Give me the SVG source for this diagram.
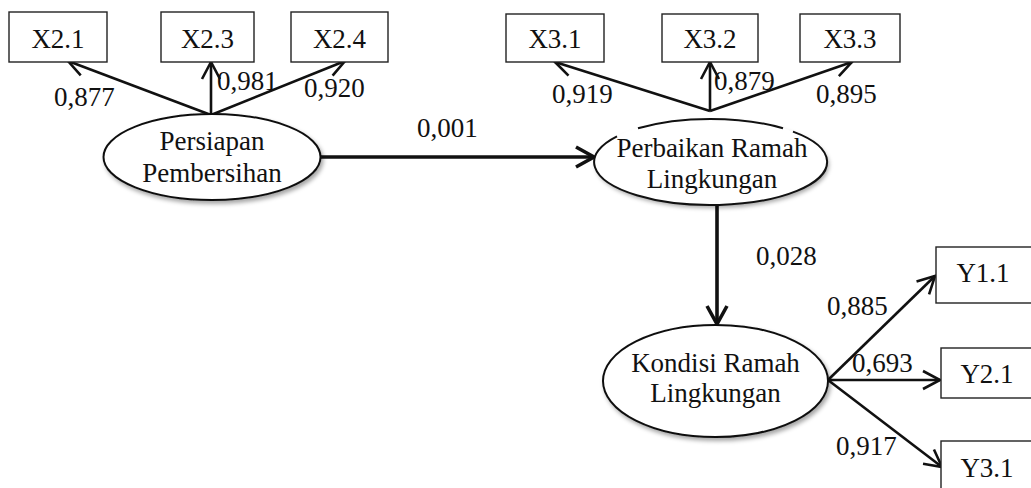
<svg xmlns="http://www.w3.org/2000/svg" width="1031" height="488" viewBox="0 0 1031 488">
<style>
text{font-family:"Liberation Serif","Times New Roman",serif;font-size:27px;fill:#111}
.c{text-anchor:middle}
.box{fill:#fff;stroke:#222;stroke-width:1.4}
.ell{fill:#fff;stroke:#111;stroke-width:2}
.ind{stroke:#111;stroke-width:2.6;fill:none;marker-end:url(#ah)}
.main{stroke:#111;stroke-width:3.6;fill:none;marker-end:url(#ahm)}
</style>
<defs>
<marker id="ah" markerUnits="userSpaceOnUse" viewBox="-20 -12 24 24" refX="0" refY="0" markerWidth="24" markerHeight="24" orient="auto" overflow="visible">
<path d="M-17,-9 L0,0 L-17,9" fill="none" stroke="#111" stroke-width="2.6" stroke-linejoin="miter"/>
</marker>
<marker id="ahm" markerUnits="userSpaceOnUse" viewBox="-22 -14 26 28" refX="0" refY="0" markerWidth="26" markerHeight="28" orient="auto" overflow="visible">
<path d="M-18,-10 L0,0 L-18,10" fill="none" stroke="#111" stroke-width="3.6"/>
</marker>
<filter id="sh" x="-20%" y="-20%" width="140%" height="150%">
<feDropShadow dx="2" dy="3" stdDeviation="2.2" flood-color="#000" flood-opacity="0.35"/>
</filter>
</defs>

<g id="connectors">
<line class="ind" x1="211" y1="115" x2="68" y2="61"/>
<line class="ind" x1="211" y1="115" x2="211" y2="62"/>
<line class="ind" x1="211" y1="115" x2="345" y2="61"/>
<line class="main" x1="321" y1="157" x2="594" y2="157"/>
<line class="ind" x1="710" y1="111" x2="555" y2="62"/>
<line class="ind" x1="710" y1="111" x2="710" y2="62"/>
<line class="ind" x1="710" y1="111" x2="852" y2="62"/>
<line class="main" x1="717" y1="205" x2="717" y2="324"/>
<line class="ind" x1="828" y1="380" x2="935" y2="276"/>
<line class="ind" x1="828" y1="380" x2="940" y2="380"/>
<line class="ind" x1="828" y1="380" x2="942" y2="467"/>
<text x="54" y="106">0,877</text>
<text x="217" y="90">0,981</text>
<text x="304" y="97">0,920</text>
<text x="417" y="137">0,001</text>
<text x="552" y="103">0,919</text>
<text x="714" y="90">0,879</text>
<text x="816" y="103">0,895</text>
<text x="756" y="265">0,028</text>
<text x="827" y="315">0,885</text>
<text x="852" y="372">0,693</text>
<text x="836" y="455">0,917</text>
</g>

<g id="X2.1"><rect class="box" x="9" y="12" width="98" height="50"/><text class="c" x="58" y="48">X2.1</text></g>
<g id="X2.3"><rect class="box" x="161" y="12" width="93" height="50"/><text class="c" x="207.5" y="48">X2.3</text></g>
<g id="X2.4"><rect class="box" x="291" y="12" width="97" height="50"/><text class="c" x="339.5" y="48">X2.4</text></g>
<g id="X3.1"><rect class="box" x="506" y="14" width="98" height="48"/><text class="c" x="555" y="48">X3.1</text></g>
<g id="X3.2"><rect class="box" x="662" y="14" width="96" height="48"/><text class="c" x="710" y="48">X3.2</text></g>
<g id="X3.3"><rect class="box" x="800" y="14" width="100" height="48"/><text class="c" x="850" y="48">X3.3</text></g>
<g id="Y1.1"><rect class="box" x="936" y="247" width="110" height="56"/><text class="c" x="983" y="282">Y1.1</text></g>
<g id="Y2.1"><rect class="box" x="941" y="348" width="110" height="50"/><text class="c" x="987" y="383">Y2.1</text></g>
<g id="Y3.1"><rect class="box" x="941" y="441" width="110" height="60"/><text class="c" x="987" y="477">Y3.1</text></g>

<g id="persiapan">
<ellipse class="ell" cx="212" cy="157" rx="108.5" ry="43" filter="url(#sh)"/>
<text class="c" x="212" y="150">Persiapan</text>
<text class="c" x="212" y="182">Pembersihan</text>
</g>

<g id="perbaikan">
<ellipse cx="710.5" cy="162" rx="116.5" ry="43" fill="#fff" filter="url(#sh)"/>
<path d="M617,136.4 A116.5,43 0 1,0 793,131.6" fill="none" stroke="#111" stroke-width="2"/>
<path d="M638,128.3 A116.5,43 0 0,1 783,128.3" fill="none" stroke="#111" stroke-width="2"/>
<text class="c" x="712" y="157">Perbaikan Ramah</text>
<text class="c" x="712" y="188">Lingkungan</text>
</g>

<g id="kondisi">
<ellipse class="ell" cx="715.5" cy="381" rx="112.5" ry="56" filter="url(#sh)"/>
<text class="c" x="715.5" y="372">Kondisi Ramah</text>
<text class="c" x="715.5" y="402">Lingkungan</text>
</g>
</svg>
